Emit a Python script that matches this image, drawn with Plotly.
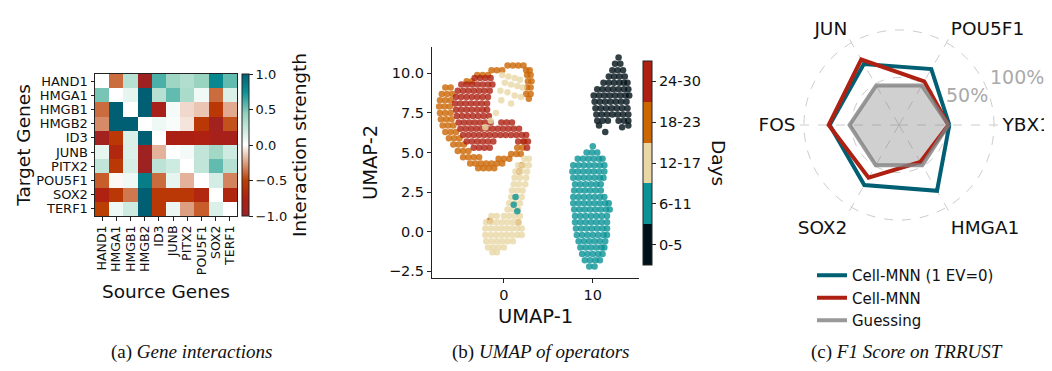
import plotly.graph_objects as go

# ---------------- Panel (a): gene interaction heatmap ----------------
genes = ["HAND1", "HMGA1", "HMGB1", "HMGB2", "ID3", "JUNB", "PITX2", "POU5F1", "SOX2", "TERF1"]
interaction = [
    [0.00, -0.38, 0.30, -0.95, 0.60, 0.40, 0.32, 0.42, 0.80, 0.55],
    [0.50, 0.00, 0.10, 1.00, 0.30, 0.55, 0.35, 0.06, -0.38, 0.15],
    [-0.38, 1.00, 0.00, 1.00, -0.85, 0.05, -0.10, -0.15, -0.55, -0.22],
    [-0.30, 1.00, 1.00, 0.00, 0.07, 0.03, -0.07, -0.55, -0.90, -0.45],
    [-0.90, -0.55, 0.15, 1.00, 0.00, -0.80, -0.78, -0.75, -0.85, -0.85],
    [0.10, -0.70, 0.15, -0.95, -0.20, 0.00, 0.05, 0.25, 0.38, 0.20],
    [0.25, -0.55, 0.17, -0.95, 0.27, 0.20, 0.00, 0.25, 0.55, 0.30],
    [-0.42, -0.02, 0.07, 0.85, -0.38, 0.10, -0.20, 0.00, 0.18, -0.32],
    [-0.75, -0.55, -0.35, 1.00, -0.55, -0.55, -0.55, -0.70, 0.00, -0.72],
    [-0.50, 0.07, 0.20, 1.00, -0.55, 0.08, -0.25, -0.42, 0.15, 0.00],
]
cbar_ticks = [-1.0, -0.5, 0.0, 0.5, 1.0]

# ---------------- Panel (b): UMAP of operators ----------------
day_labels = ["0-5", "6-11", "12-17", "18-23", "24-30"]
day_colors = ["#001219", "#0a9396", "#e9d8a6", "#ca6702", "#ae2012"]

umap_d0_5 = [
    [12.9, 11.0],
    [12.5, 10.6], [13.1, 10.6],
    [12.2, 10.2], [12.8, 10.2], [13.4, 10.2],
    [11.8, 9.8], [12.4, 9.8], [13.0, 9.8], [13.6, 9.8],
    [11.2, 9.4], [11.8, 9.4], [12.4, 9.4], [13.0, 9.4], [13.5, 9.4], [13.9, 9.4],
    [10.5, 9.0], [11.1, 9.0], [11.7, 9.0], [12.3, 9.0], [12.9, 9.0], [13.5, 9.0], [14.0, 9.0],
    [10.1, 8.6], [10.7, 8.6], [11.3, 8.6], [11.9, 8.6], [12.5, 8.6], [13.1, 8.6], [13.7, 8.6], [14.1, 8.6],
    [10.2, 8.2], [10.8, 8.2], [11.4, 8.2], [12.0, 8.2], [12.6, 8.2], [13.2, 8.2], [13.8, 8.2],
    [10.3, 7.8], [10.9, 7.8], [11.5, 7.8], [12.1, 7.8], [12.7, 7.8], [13.3, 7.8], [13.9, 7.8],
    [10.4, 7.4], [11.0, 7.4], [11.6, 7.4], [12.2, 7.4], [12.8, 7.4], [13.4, 7.4], [14.0, 7.4],
    [10.5, 7.0], [11.1, 7.0], [11.7, 7.0], [12.9, 7.0], [13.5, 7.0], [14.0, 7.0],
    [10.7, 6.7], [14.0, 6.7],
    [11.4, 6.3], [13.3, 6.6],
]

umap_d6_11 = [
    [10.0, 5.4],
    [9.3, 5.0], [9.9, 5.0], [10.5, 5.0],
    [8.3, 4.6], [8.9, 4.6], [9.5, 4.6], [10.1, 4.6], [10.7, 4.6], [11.1, 4.6],
    [7.8, 4.2], [8.4, 4.2], [9.0, 4.2], [9.6, 4.2], [10.2, 4.2], [10.8, 4.2], [11.3, 4.2],
    [7.7, 3.8], [8.3, 3.8], [8.9, 3.8], [9.5, 3.8], [10.1, 3.8], [10.7, 3.8], [11.3, 3.8],
    [7.8, 3.4], [8.4, 3.4], [9.0, 3.4], [9.6, 3.4], [10.2, 3.4], [10.8, 3.4], [11.2, 3.4],
    [8.0, 3.0], [8.6, 3.0], [9.2, 3.0], [9.8, 3.0], [10.4, 3.0], [10.9, 3.0],
    [7.9, 2.6], [8.5, 2.6], [9.1, 2.6], [9.7, 2.6], [10.3, 2.6], [10.9, 2.6],
    [7.8, 2.2], [8.4, 2.2], [9.0, 2.2], [9.6, 2.2], [10.2, 2.2], [10.8, 2.2], [11.3, 2.2],
    [7.8, 1.8], [8.4, 1.8], [9.0, 1.8], [9.6, 1.8], [10.2, 1.8], [10.8, 1.8], [11.4, 1.8], [11.8, 1.8],
    [7.9, 1.4], [8.5, 1.4], [9.1, 1.4], [9.7, 1.4], [10.3, 1.4], [10.9, 1.4], [11.5, 1.4], [11.9, 1.4],
    [8.0, 1.0], [8.6, 1.0], [9.2, 1.0], [9.8, 1.0], [10.4, 1.0], [11.0, 1.0], [11.6, 1.0],
    [8.0, 0.6], [8.6, 0.6], [9.2, 0.6], [9.8, 0.6], [10.4, 0.6], [11.0, 0.6], [11.6, 0.6],
    [8.1, 0.2], [8.7, 0.2], [9.3, 0.2], [9.9, 0.2], [10.5, 0.2], [11.1, 0.2], [11.6, 0.2],
    [8.2, -0.2], [8.8, -0.2], [9.4, -0.2], [10.0, -0.2], [10.6, -0.2], [11.2, -0.2], [11.6, -0.2],
    [8.4, -0.6], [9.0, -0.6], [9.6, -0.6], [10.2, -0.6], [10.8, -0.6], [11.4, -0.6],
    [8.6, -1.0], [9.2, -1.0], [9.8, -1.0], [10.4, -1.0], [11.0, -1.0], [11.3, -1.0],
    [8.8, -1.4], [9.4, -1.4], [10.0, -1.4], [10.6, -1.4], [11.1, -1.4],
    [9.1, -1.8], [9.7, -1.8], [10.3, -1.8], [10.8, -1.8],
    [9.6, -2.2], [10.2, -2.2],
    [1.3, 2.2], [1.1, 1.7], [1.5, 1.3],
]

umap_d12_17 = [
    [-0.2, 9.9], [0.5, 9.8], [1.2, 9.7], [1.8, 9.6], [0.1, 9.4], [0.8, 9.3], [1.5, 9.2],
    [2.1, 9.1], [-0.4, 8.9], [0.4, 8.8], [1.2, 8.6], [1.9, 8.5], [0.8, 8.1], [-0.3, 8.3],
    [-1.5, 7.0], [-2.1, 6.6], [-0.9, 7.5],
    [2.3, 4.6], [2.8, 4.6],
    [1.6, 4.2], [2.2, 4.2], [2.8, 4.2],
    [1.3, 3.8], [1.9, 3.8], [2.6, 3.8],
    [1.2, 3.4], [1.8, 3.4], [2.5, 3.4],
    [1.1, 3.0], [1.7, 3.0], [2.4, 3.0],
    [0.9, 2.6], [1.5, 2.6], [2.1, 2.6],
    [0.8, 2.2], [1.4, 2.2], [2.0, 2.2],
    [0.6, 1.8], [1.2, 1.8], [1.8, 1.8],
    [0.4, 1.4], [1.0, 1.4], [1.6, 1.4],
    [-1.4, 1.0], [-0.8, 1.0], [0.0, 1.0], [0.6, 1.0], [1.2, 1.0], [1.8, 1.0],
    [-2.0, 0.6], [-1.4, 0.6], [-0.8, 0.6], [-0.2, 0.6], [0.4, 0.6], [1.0, 0.6], [1.6, 0.6],
    [-2.1, 0.2], [-1.5, 0.2], [-0.9, 0.2], [-0.3, 0.2], [0.3, 0.2], [0.9, 0.2], [1.5, 0.2], [2.0, 0.2],
    [-2.1, -0.2], [-1.5, -0.2], [-0.9, -0.2], [-0.3, -0.2], [0.3, -0.2], [0.9, -0.2], [1.5, -0.2], [2.0, -0.2],
    [-2.0, -0.6], [-1.4, -0.6], [-0.8, -0.6], [-0.2, -0.6], [0.4, -0.6], [1.0, -0.6],
    [-1.8, -1.0], [-1.2, -1.0], [-0.6, -1.0], [0.0, -1.0],
    [-1.3, -1.3], [-0.8, -1.3],
]

umap_d18_23 = [
    [0.4, 10.5], [1.0, 10.5], [1.6, 10.5], [2.2, 10.5],
    [-1.4, 10.2], [-0.8, 10.2], [-0.2, 10.2], [2.5, 10.2], [2.9, 10.2],
    [-3.0, 9.9], [-2.4, 9.9], [-1.8, 9.9], [2.6, 9.9], [3.0, 9.9],
    [-4.2, 9.5], [-3.6, 9.5], [2.7, 9.5], [3.1, 9.5],
    [2.6, 9.1], [3.0, 9.1], [2.5, 8.7], [3.0, 8.7], [2.8, 8.4],
    [-6.6, 9.1], [-6.0, 9.1],
    [-7.0, 8.7], [-6.4, 8.7], [-5.8, 8.7],
    [-7.2, 8.3], [-6.6, 8.3], [-6.0, 8.3],
    [-7.3, 7.9], [-6.7, 7.9], [-6.1, 7.9],
    [-7.2, 7.5], [-6.6, 7.5], [-6.0, 7.5],
    [-7.1, 7.1], [-6.5, 7.1], [-5.9, 7.1],
    [-6.9, 6.7], [-6.3, 6.7], [-5.7, 6.7],
    [-6.6, 6.3], [-6.0, 6.3], [-5.4, 6.3],
    [-6.2, 5.9], [-5.6, 5.9], [-5.0, 5.9],
    [-5.7, 5.5], [-5.1, 5.5], [-4.5, 5.5],
    [-5.2, 5.1], [-4.6, 5.1], [-4.0, 5.1],
    [-4.6, 4.7], [-4.0, 4.7], [-3.4, 4.7], [-2.8, 4.7],
    [-3.8, 4.3], [-3.2, 4.3], [-2.6, 4.3], [-2.0, 4.3], [-1.4, 4.3], [-0.8, 4.3], [-0.2, 4.3],
    [-2.9, 4.0], [-2.3, 4.0], [-1.7, 4.0], [-1.1, 4.0],
    [-0.6, 4.6], [0.0, 4.6], [0.6, 4.6],
    [0.8, 4.9], [1.4, 4.9], [1.9, 4.9],
    [1.5, 5.3], [2.1, 5.3],
    [2.0, 4.2], [1.7, 3.8], [2.3, 5.7],
    [1.6, 0.6], [-1.6, 0.7],
]

umap_d24_30 = [
    [-3.3, 9.7], [-2.7, 9.7], [-2.1, 9.7], [-1.5, 9.7],
    [-4.8, 9.3], [-4.2, 9.3], [-3.6, 9.3], [-3.0, 9.3], [-2.4, 9.3], [-1.8, 9.3], [-1.3, 9.3],
    [-5.2, 8.9], [-4.6, 8.9], [-4.0, 8.9], [-3.4, 8.9], [-2.8, 8.9], [-2.2, 8.9], [-1.6, 8.9],
    [-5.4, 8.5], [-4.8, 8.5], [-4.2, 8.5], [-3.6, 8.5], [-3.0, 8.5], [-2.4, 8.5], [-1.8, 8.5],
    [-5.5, 8.1], [-4.9, 8.1], [-4.3, 8.1], [-3.7, 8.1], [-3.1, 8.1], [-2.5, 8.1], [-1.9, 8.1],
    [-5.4, 7.7], [-4.8, 7.7], [-4.2, 7.7], [-3.6, 7.7], [-3.0, 7.7], [-2.4, 7.7], [-1.9, 7.7],
    [-5.3, 7.3], [-4.7, 7.3], [-4.1, 7.3], [-3.5, 7.3], [-2.9, 7.3], [-2.3, 7.3], [-1.7, 7.3],
    [-5.1, 6.9], [-4.5, 6.9], [-3.9, 6.9], [-3.3, 6.9], [-2.7, 6.9], [-2.1, 6.9], [-1.5, 6.9],
    [-0.3, 6.9], [0.3, 6.9], [0.9, 6.9],
    [-4.9, 6.5], [-4.3, 6.5], [-3.7, 6.5], [-3.1, 6.5], [-2.5, 6.5], [-1.9, 6.5], [-1.3, 6.5],
    [-0.7, 6.5], [-0.1, 6.5], [0.5, 6.5], [1.1, 6.5], [1.7, 6.5],
    [-4.6, 6.1], [-4.0, 6.1], [-3.4, 6.1], [-2.8, 6.1], [-2.2, 6.1], [-1.6, 6.1], [-1.0, 6.1],
    [-0.4, 6.1], [0.2, 6.1], [0.8, 6.1], [1.4, 6.1], [2.0, 6.1], [2.5, 6.1],
    [-4.2, 5.7], [-3.6, 5.7], [-3.0, 5.7], [-2.4, 5.7], [-1.8, 5.7], [-1.2, 5.7], [1.6, 5.7], [2.2, 5.7], [2.7, 5.7],
    [-3.4, 5.3], [-2.8, 5.3], [-2.2, 5.3], [-1.6, 5.3], [2.6, 5.3],
]

# ---------------- Panel (c): F1 score radar ----------------
radar_genes = ["YBX1", "POU5F1", "JUN", "FOS", "SOX2", "HMGA1"]
f1_cellmnn_ev = [0.53, 0.68, 0.74, 0.73, 0.73, 0.80]
f1_cellmnn = [0.52, 0.53, 0.795, 0.74, 0.64, 0.45]
f1_guessing = [0.52, 0.48, 0.48, 0.52, 0.49, 0.49]
radial_ticks = [0.5, 1.0]
radial_labels = ["50%", "100%"]

FONT = "DejaVu Sans"
# page body adds an 8 px margin; the figure is sized and laid out to fill the window
OFF = 8
FW, FH = 1052 - OFF, 371 - OFF


def fx(p):
    return (p - OFF) / FW


def fy(p):
    return 1 - (p - OFF) / FH


def fh(h):
    return h / FH


fig = go.Figure()

heat_scale = [
    [0.0, "#9b2226"], [0.12, "#ae2012"], [0.25, "#bb3e03"], [0.5, "#ffffff"],
    [0.72, "#94d2bd"], [0.87, "#0a9396"], [1.0, "#005f73"],
]
fig.add_trace(go.Heatmap(
    z=interaction, x=genes, y=genes, zmin=-1, zmax=1, colorscale=heat_scale,
    xaxis="x", yaxis="y", hoverinfo="skip",
    colorbar=dict(
        x=fx(242), xanchor="left", xpad=0, ypad=0,
        y=fy(145), yanchor="middle", len=fh(142), lenmode="fraction",
        thickness=7, thicknessmode="pixels",
        outlinewidth=1, outlinecolor="#222",
        tickvals=cbar_ticks, tickformat=".1f", ticks="outside", ticklen=4,
        tickcolor="#222", tickfont=dict(size=13, color="#111"),
        title=dict(text="Interaction strength", side="right",
                   font=dict(size=18.5, color="#111")),
    ),
))

# UMAP scatter: one trace, colored by day-bin index through a discrete colorscale
groups = [(3, umap_d18_23), (4, umap_d24_30), (2, umap_d12_17), (1, umap_d6_11), (0, umap_d0_5)]
xs, ys, cs = [], [], []
for idx, pts in groups:
    for p in pts:
        xs.append(p[0])
        ys.append(p[1])
        cs.append(idx)

n = len(day_colors)
days_scale = []
for i, c in enumerate(day_colors):
    days_scale.append([i / n, c])
    days_scale.append([(i + 1) / n, c])

fig.add_trace(go.Scatter(
    x=xs, y=ys, mode="markers", xaxis="x2", yaxis="y2", showlegend=False, hoverinfo="skip",
    marker=dict(
        size=6.5, color=cs, colorscale=days_scale, cmin=-0.5, cmax=n - 0.5, opacity=0.8,
        line=dict(width=0), showscale=True,
        colorbar=dict(
            x=fx(643), xanchor="left", xpad=0, ypad=0,
            y=fy(163), yanchor="middle", len=fh(204), lenmode="fraction",
            thickness=9, thicknessmode="pixels",
            outlinewidth=1, outlinecolor="#222",
            tickvals=list(range(n)), ticktext=day_labels, ticks="outside", ticklen=4,
            tickcolor="#222", tickfont=dict(size=14.5, color="#111"),
        ),
    ),
))


# Radar
def closed(v):
    return list(v) + [v[0]]


fig.add_trace(go.Scatterpolar(
    r=closed(f1_guessing), theta=closed(radar_genes), mode="lines",
    line=dict(width=0, color="rgba(0,0,0,0)"), fill="toself",
    fillcolor="rgba(128,128,128,0.37)", showlegend=False, subplot="polar",
    hoverinfo="skip",
))
fig.add_trace(go.Scatterpolar(
    r=closed(f1_cellmnn_ev), theta=closed(radar_genes), mode="lines",
    line=dict(color="#005f73", width=4), name="Cell-MNN (1 EV=0)", subplot="polar",
    hoverinfo="skip",
))
fig.add_trace(go.Scatterpolar(
    r=closed(f1_cellmnn), theta=closed(radar_genes), mode="lines",
    line=dict(color="#ae2012", width=4), name="Cell-MNN", subplot="polar",
    hoverinfo="skip",
))
fig.add_trace(go.Scatterpolar(
    r=closed(f1_guessing), theta=closed(radar_genes), mode="lines",
    line=dict(color="rgba(128,128,128,0.8)", width=4), name="Guessing", subplot="polar",
    hoverinfo="skip",
))

axis_line = dict(showline=True, linecolor="#222", linewidth=1, ticks="outside",
                 ticklen=4, tickcolor="#222", showgrid=False, zeroline=False)

caption_font = dict(family="Liberation Serif", size=19, color="#111")
annotations = [
    dict(text="Days", x=fx(719), y=fy(163), xanchor="center", yanchor="middle",
         showarrow=False, textangle=90, font=dict(size=18.5, color="#111")),
    dict(text="(a) <i>Gene interactions</i>", x=fx(191), y=fy(352),
         xanchor="center", yanchor="middle", showarrow=False, font=caption_font),
    dict(text="(b) <i>UMAP of operators</i>", x=fx(541), y=fy(352),
         xanchor="center", yanchor="middle", showarrow=False, font=caption_font),
    dict(text="(c) <i>F1 Score on TRRUST</i>", x=fx(907), y=fy(352),
         xanchor="center", yanchor="middle", showarrow=False, font=caption_font),
]
# radial percentage labels of the radar, set beside the 22.5 deg radial line
for lbl, (lx, ly) in zip(radial_labels, [(967, 95), (1017, 77)]):
    annotations.append(dict(text=lbl, x=fx(lx), y=fy(ly), xanchor="center", yanchor="middle",
                            showarrow=False, font=dict(size=19, color="#aaaaaa")))
for a in annotations:
    a["xref"] = "paper"
    a["yref"] = "paper"

fig.update_layout(
    width=FW, height=FH,
    margin=dict(l=0, r=0, t=0, b=0),
    paper_bgcolor="white", plot_bgcolor="white",
    font=dict(family=FONT, color="#111"),
    xaxis=dict(
        domain=[fx(95), fx(237)], anchor="y", tickangle=-90,
        tickmode="array", tickvals=genes, ticktext=genes,
        tickfont=dict(size=12.5), ticks="outside", ticklen=3.5, tickcolor="#222",
        showline=True, mirror=True, linecolor="#222", linewidth=1,
        showgrid=False, zeroline=False,
        title=dict(text="Source Genes", font=dict(size=18.5), standoff=10),
    ),
    yaxis=dict(
        domain=[fy(216), fy(74)], anchor="x", autorange="reversed",
        tickmode="array", tickvals=genes, ticktext=genes,
        tickfont=dict(size=13), ticks="outside", ticklen=3.5, tickcolor="#222",
        showline=True, mirror=True, linecolor="#222", linewidth=1,
        showgrid=False, zeroline=False,
        title=dict(text="Target Genes", font=dict(size=18.5), standoff=0),
    ),
    xaxis2=dict(
        domain=[fx(432), fx(639)], anchor="y2", range=[-8.1, 15.2],
        tickvals=[0, 10], tickfont=dict(size=14.5),
        title=dict(text="UMAP-1", font=dict(size=19.5), standoff=6),
        **axis_line,
    ),
    yaxis2=dict(
        domain=[fy(278), fy(47)], anchor="x2", range=[-2.92, 11.66],
        tickvals=[-2.5, 0, 2.5, 5, 7.5, 10], tickformat=".1f", tickfont=dict(size=14.5),
        title=dict(text="UMAP-2", font=dict(size=19.5), standoff=6),
        **axis_line,
    ),
    polar=dict(
        domain=dict(x=[fx(796), fx(1002)], y=[fy(228), fy(22)]),
        bgcolor="white",
        angularaxis=dict(
            rotation=0, direction="counterclockwise", showline=False, ticks="",
            categoryorder="array", categoryarray=radar_genes,
            tickfont=dict(size=18.5, color="#111"),
            gridcolor="#cccccc", griddash="dash", gridwidth=1,
        ),
        radialaxis=dict(
            range=[0, 1.084], tickvals=radial_ticks, showticklabels=False,
            angle=22.5, showline=False, ticks="",
            gridcolor="#cccccc", griddash="dash", gridwidth=1,
        ),
    ),
    legend=dict(
        x=fx(812), y=fy(259), xanchor="left", yanchor="top",
        font=dict(size=15, color="#111"), bgcolor="rgba(0,0,0,0)",
    ),
    annotations=annotations,
)

fig.write_html("out.html")
